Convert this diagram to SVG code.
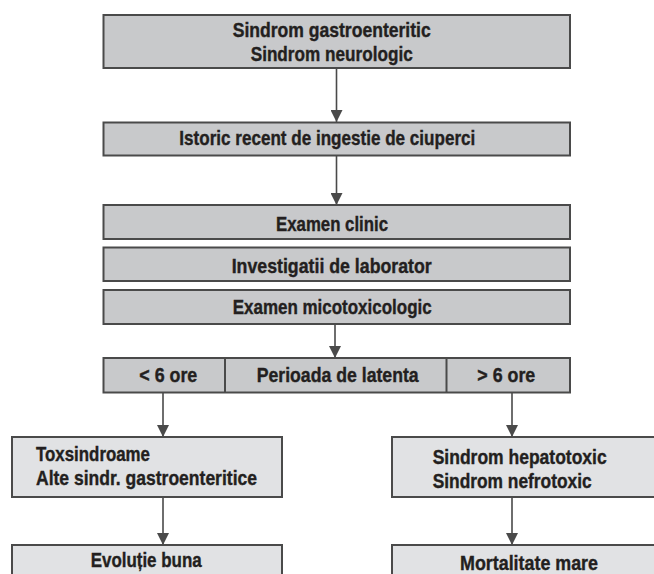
<svg xmlns="http://www.w3.org/2000/svg" width="654" height="574" viewBox="0 0 654 574">
<defs>
<style>
.box{fill:#c8c9cb;stroke:#4a4a4a;stroke-width:2}
.lbox{fill:#e1e2e4;stroke:#4a4a4a;stroke-width:2}
.t{font-family:"Liberation Sans Narrow","Liberation Sans",Arial,sans-serif;font-weight:bold;font-size:21px;fill:#231f20;stroke:#231f20;stroke-width:0.4}
.c{fill:none;stroke:#4a4a4a;stroke-width:1.6}
</style>
<marker id="ah" viewBox="0 0 10 10" refX="10" refY="5" markerWidth="12" markerHeight="12" markerUnits="userSpaceOnUse" orient="auto">
<path d="M0,0 L10,5 L0,10 Z" fill="#4a4a4a"/>
</marker>
</defs>
<rect width="654" height="574" fill="#ffffff"/>
<g id="connectors">
<line class="c" x1="336.5" y1="69" x2="336.5" y2="122" marker-end="url(#ah)"/>
<line class="c" x1="336.5" y1="156" x2="336.5" y2="205" marker-end="url(#ah)"/>
<line class="c" x1="335" y1="324" x2="335" y2="358" marker-end="url(#ah)"/>
<line class="c" x1="163" y1="392" x2="163" y2="437" marker-end="url(#ah)"/>
<line class="c" x1="163" y1="497" x2="163" y2="545" marker-end="url(#ah)"/>
<line class="c" x1="512" y1="393" x2="512" y2="437" marker-end="url(#ah)"/>
<line class="c" x1="512" y1="497" x2="512" y2="545" marker-end="url(#ah)"/>
</g>
<g id="sindrom">
<rect class="box" x="103.5" y="15" width="466.5" height="53"/>
<text class="t" x="232.7" y="37" textLength="198" lengthAdjust="spacingAndGlyphs">Sindrom gastroenteritic</text>
<text class="t" x="250.7" y="61" textLength="162" lengthAdjust="spacingAndGlyphs">Sindrom neurologic</text>
</g>
<g id="istoric">
<rect class="box" x="103.5" y="122.5" width="466.5" height="33"/>
<text class="t" x="179.3" y="145" textLength="296" lengthAdjust="spacingAndGlyphs">Istoric recent de ingestie de ciuperci</text>
</g>
<g id="examen-clinic">
<rect class="box" x="103.5" y="205" width="466.5" height="34"/>
<text class="t" x="276" y="231" textLength="112" lengthAdjust="spacingAndGlyphs">Examen clinic</text>
</g>
<g id="investigatii">
<rect class="box" x="103.5" y="247.5" width="466.5" height="33.5"/>
<text class="t" x="231.7" y="273" textLength="200" lengthAdjust="spacingAndGlyphs">Investigatii de laborator</text>
</g>
<g id="examen-micotoxicologic">
<rect class="box" x="103.5" y="290" width="466.5" height="34"/>
<text class="t" x="232.7" y="314" textLength="199" lengthAdjust="spacingAndGlyphs">Examen micotoxicologic</text>
</g>
<g id="latenta">
<rect class="box" x="103.5" y="358" width="466.5" height="34.5"/>
<line x1="225" y1="358" x2="225" y2="392.5" stroke="#4a4a4a" stroke-width="2"/>
<line x1="446.5" y1="358" x2="446.5" y2="392.5" stroke="#4a4a4a" stroke-width="2"/>
<text class="t" x="139.3" y="382" textLength="58" lengthAdjust="spacingAndGlyphs">&lt; 6 ore</text>
<text class="t" x="256.7" y="382" textLength="162" lengthAdjust="spacingAndGlyphs">Perioada de latenta</text>
<text class="t" x="477.3" y="382" textLength="58" lengthAdjust="spacingAndGlyphs">&gt; 6 ore</text>
</g>
<g id="toxsindroame">
<rect class="lbox" x="12" y="437" width="270" height="60"/>
<text class="t" x="36" y="460.5" textLength="114" lengthAdjust="spacingAndGlyphs">Toxsindroame</text>
<text class="t" x="36" y="484.5" textLength="221" lengthAdjust="spacingAndGlyphs">Alte sindr. gastroenteritice</text>
</g>
<g id="evolutie">
<rect class="lbox" x="12" y="545" width="270" height="40"/>
<text class="t" x="90.7" y="567" textLength="111" lengthAdjust="spacingAndGlyphs">Evoluție buna</text>
</g>
<g id="hepatotoxic">
<rect class="lbox" x="392" y="437" width="270" height="60"/>
<text class="t" x="432.7" y="463.5" textLength="174" lengthAdjust="spacingAndGlyphs">Sindrom hepatotoxic</text>
<text class="t" x="432.7" y="487.5" textLength="159" lengthAdjust="spacingAndGlyphs">Sindrom nefrotoxic</text>
</g>
<g id="mortalitate">
<rect class="lbox" x="392" y="545" width="270" height="40"/>
<text class="t" x="460" y="570" textLength="138" lengthAdjust="spacingAndGlyphs">Mortalitate mare</text>
</g>
</svg>
